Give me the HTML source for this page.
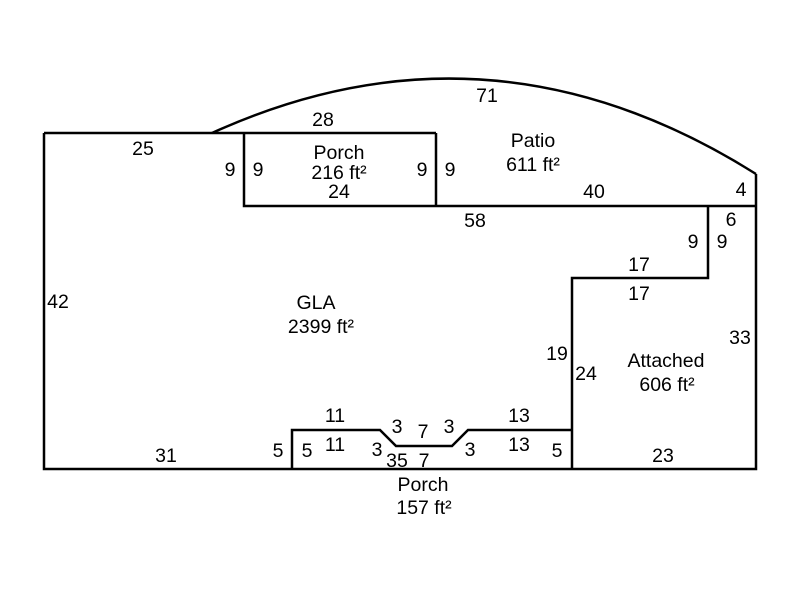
<!DOCTYPE html>
<html><head><style>body{margin:0;background:#fff}svg{display:block}text{font-family:"Liberation Sans",sans-serif;font-size:19.5px;fill:#000;text-anchor:middle}</style></head><body>
<svg width="800" height="600" viewBox="0 0 800 600">
<g fill="none" stroke="#000" stroke-width="2.5">
<path d="M212,133 Q490,6.5 756,174"/>
<path d="M44,133 H436 M44,133 V469 H756 V174"/>
<path d="M244,133 V206 H756"/>
<path d="M436,133 V206"/>
<path d="M572,469 V278 H708 V206"/>
<path d="M292,469 V430 H380 L396,446 H452 L468,430 H572"/>
</g>
<text x="487" y="102">71</text>
<text x="323" y="126">28</text>
<text x="143" y="155">25</text>
<text x="533" y="147">Patio</text>
<text x="533" y="171">611 ft²</text>
<text x="339" y="159">Porch</text>
<text x="339" y="179">216 ft²</text>
<text x="339" y="198">24</text>
<text x="230" y="176">9</text>
<text x="258" y="176">9</text>
<text x="422" y="176">9</text>
<text x="450" y="176">9</text>
<text x="594" y="198">40</text>
<text x="741" y="196">4</text>
<text x="475" y="227">58</text>
<text x="731" y="226">6</text>
<text x="693" y="248">9</text>
<text x="722" y="248">9</text>
<text x="639" y="271">17</text>
<text x="639" y="300">17</text>
<text x="58" y="308">42</text>
<text x="316" y="309">GLA</text>
<text x="321" y="333">2399 ft²</text>
<text x="740" y="344">33</text>
<text x="557" y="360">19</text>
<text x="586" y="380">24</text>
<text x="666" y="367">Attached</text>
<text x="667" y="391">606 ft²</text>
<text x="335" y="422">11</text>
<text x="519" y="422">13</text>
<text x="397" y="433">3</text>
<text x="423" y="438">7</text>
<text x="449" y="433">3</text>
<text x="278" y="457">5</text>
<text x="307" y="457">5</text>
<text x="335" y="451">11</text>
<text x="377" y="456">3</text>
<text x="470" y="456">3</text>
<text x="519" y="451">13</text>
<text x="557" y="457">5</text>
<text x="397" y="467">35</text>
<text x="424" y="467">7</text>
<text x="166" y="462">31</text>
<text x="663" y="462">23</text>
<text x="423" y="491">Porch</text>
<text x="424" y="514">157 ft²</text>
</svg>
</body></html>
